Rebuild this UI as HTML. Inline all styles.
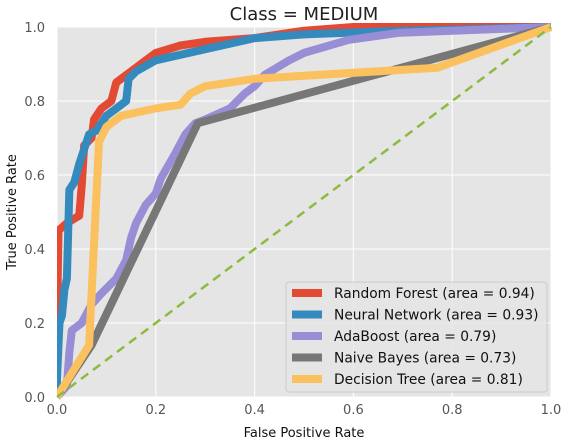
<!DOCTYPE html>
<html><head><meta charset="utf-8"><style>
body{margin:0;background:#fff;}
svg{display:block;font-family:"DejaVu Sans","Liberation Sans",sans-serif;}
</style></head><body>
<svg id="chart" width="570" height="443">
<text x="304" y="20" text-anchor="middle" font-size="18" fill="#222">Class = MEDIUM</text>
<rect x="57" y="27" width="494" height="370" fill="#e5e5e5"/>
<g id="grid"></g><g id="ticks"></g><g id="series"></g>
<text x="304" y="437" text-anchor="middle" font-size="13" fill="#111">False Positive Rate</text>
<text transform="translate(16,212) rotate(-90)" text-anchor="middle" font-size="13" fill="#111">True Positive Rate</text>
<g id="legend">
<rect x="286" y="282" width="261" height="110" rx="3" fill="#e5e5e5" fill-opacity="0.8" stroke="#ccc"/>
</g>
</svg>
<script>
const xTicks=[0,0.2,0.4,0.6,0.8,1.0];
const yTicks=[0,0.2,0.4,0.6,0.8,1.0];
const names=["Random Forest","Neural Network","AdaBoost","Naive Bayes","Decision Tree"];
const areas=["0.94","0.93","0.79","0.73","0.81"];
const colors=["#e24a33","#348abd","#988ed5","#777777","#fbc15e"];
const rfFpr=[0,0,0.003,0.02,0.045,0.05,0.055,0.07,0.075,0.09,0.11,0.12,0.14,0.17,0.2,0.25,0.3,0.4,0.5,0.6,1];
const rfTpr=[0,0.2,0.45,0.47,0.49,0.57,0.68,0.70,0.75,0.78,0.80,0.85,0.87,0.90,0.93,0.95,0.96,0.97,0.99,1,1];
const nnFpr=[0,0,0.005,0.01,0.015,0.02,0.025,0.035,0.045,0.055,0.065,0.08,0.09,0.1,0.12,0.14,0.145,0.16,0.2,0.3,0.4,0.5,0.6,0.7,0.8,1];
const nnTpr=[0,0.05,0.2,0.22,0.29,0.32,0.56,0.58,0.63,0.67,0.71,0.72,0.74,0.76,0.78,0.80,0.86,0.88,0.91,0.94,0.97,0.98,0.985,0.99,0.993,1];
const abFpr=[0,0.02,0.025,0.03,0.05,0.07,0.09,0.12,0.14,0.15,0.16,0.18,0.2,0.21,0.24,0.26,0.28,0.3,0.35,0.38,0.4,0.42,0.47,0.5,0.59,0.69,0.8,0.9,1];
const abTpr=[0,0.03,0.12,0.18,0.20,0.25,0.28,0.32,0.37,0.43,0.47,0.52,0.55,0.59,0.66,0.71,0.74,0.75,0.78,0.82,0.84,0.87,0.91,0.93,0.965,0.984,0.99,0.995,1];
const nbFpr=[0,0.07,0.285,1];
const nbTpr=[0,0.14,0.74,1];
const dtFpr=[0,0.065,0.085,0.1,0.13,0.2,0.25,0.27,0.3,0.4,0.77,1];
const dtTpr=[0,0.14,0.69,0.73,0.76,0.78,0.79,0.82,0.84,0.86,0.89,1];
const allF=[rfFpr,nnFpr,abFpr,nbFpr,dtFpr], allT=[rfTpr,nnTpr,abTpr,nbTpr,dtTpr];
const NS="http://www.w3.org/2000/svg";
const X=v=>57+v*494, Y=v=>397-v*370;
function mk(t,a,p){const e=document.createElementNS(NS,t);for(const k in a)e.setAttribute(k,a[k]);p.appendChild(e);return e;}
const grid=document.getElementById('grid'),ticks=document.getElementById('ticks'),ser=document.getElementById('series'),leg=document.getElementById('legend');
xTicks.forEach(v=>{
 const l=mk('line',{x1:X(v),x2:X(v),y1:27,y2:397,stroke:'#fff','stroke-width':1},grid);
 
 
 const t=mk('text',{x:X(v),y:414,'text-anchor':'middle','font-size':13,fill:'#555'},ticks);
 t.textContent=v.toFixed(1);
 
 
});
yTicks.forEach(v=>{
 const l=mk('line',{x1:57,x2:551,y1:Y(v),y2:Y(v),stroke:'#fff','stroke-width':1},grid);
 
 
 const t=mk('text',{x:45,y:Y(v)+5,'text-anchor':'end','font-size':13,fill:'#555'},ticks);
 t.textContent=v.toFixed(1);
 
 
});
const clip=mk('clipPath',{id:'cp'},ser);mk('rect',{x:57,y:23,width:498,height:378},clip);
allF.forEach((f,i)=>{
 const pts=f.map((v,j)=>X(v)+','+Y(allT[i][j])).join(' ');
 const p=mk('polyline',{points:pts,fill:'none',stroke:colors[i],'stroke-width':8,'stroke-linejoin':'round','clip-path':'url(#cp)'},ser);
 
 
});
const d=mk('line',{x1:X(0),y1:Y(0),x2:X(1),y2:Y(1),stroke:'#8eba42','stroke-width':2.5,'stroke-dasharray':'9,6'},ser);


names.forEach((n,i)=>{
 const y=293+i*21.5;
 const r=mk('rect',{x:292,y:y-4,width:30,height:8,fill:colors[i]},leg);
 
 
 const t=mk('text',{x:334,y:y+5,'font-size':13.8,fill:'#111'},leg);
 t.textContent=n+' (area = '+areas[i]+')';
 
 
});
</script>
</body></html>
